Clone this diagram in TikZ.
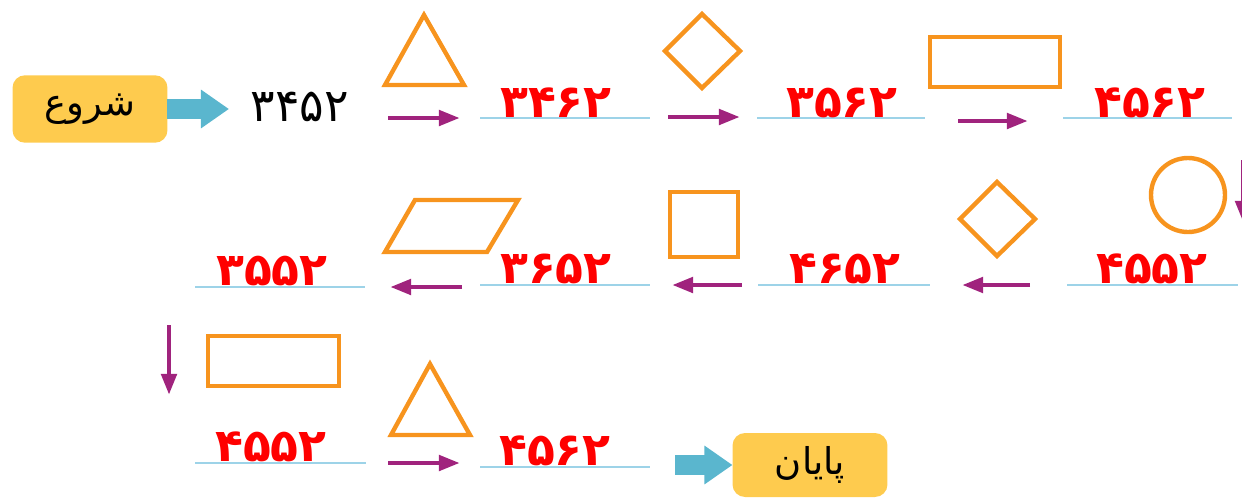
\documentclass[tikz,border=0pt]{standalone}
\usepackage{fontspec}
\usepackage{tikz}
\usetikzlibrary{arrows.meta}
\TeXXeTstate=1
\newfontfamily\arabicfont[Script=Arabic]{DejaVu Sans}
\newfontfamily\digitfont{DejaVu Sans}
\definecolor{boxyellow}{RGB}{254,203,78}
\definecolor{arrowcyan}{RGB}{90,182,206}
\definecolor{shapeorange}{RGB}{247,148,30}
\definecolor{stepviolet}{RGB}{160,35,125}
\definecolor{lineblue}{RGB}{157,211,232}

\begin{document}
\begin{tikzpicture}[x=0.02cm, y=-0.02cm,
  every node/.style={inner sep=0pt, outer sep=0pt},
  endbox/.style={fill=boxyellow, rounded corners=0.25cm, minimum width=3.1cm, minimum height=1.35cm, font=\arabicfont\fontsize{21}{25}\selectfont},
  fatarrow/.style={draw=arrowcyan, line width=11.5pt, -{Triangle[length=16pt,width=21pt]}},
  steparrow/.style={draw=stepviolet, line width=2.8pt, -{Triangle[length=12pt,width=8.5pt]}},
  outline/.style={draw=shapeorange, line width=2.5pt},
  answerline/.style={draw=lineblue, line width=1.1pt},
  given/.style={anchor=base, font=\digitfont\fontsize{26}{30}\selectfont},
  answer/.style={anchor=base, text=red, font=\digitfont\bfseries\fontsize{26}{30}\selectfont}]
\useasboundingbox (0,0) rectangle (1242,501);

\node[endbox] (start) at (90,109) {\beginR شروع\endR};
\coordinate (s1) at (229,109);
\draw[fatarrow] (start.east) -- (s1);
\node[given] (q0) at (300,121) {۳۴۵۲};

\draw[outline] (424,15) -- (464,85) -- (385,85) -- cycle;
\coordinate (a1) at (388,118);
\coordinate (b1) at (460,118);
\draw[steparrow] (a1) -- (b1);
\draw[answerline] (480,118) -- (650,118);
\node[answer] (q1) at (556,117) {۳۴۶۲};

\draw[outline] (702,14) -- (740,51) -- (702,88) -- (665,51) -- cycle;
\coordinate (a2) at (668,117);
\coordinate (b2) at (740,117);
\draw[steparrow] (a2) -- (b2);
\draw[answerline] (757,118) -- (925,118);
\node[answer] (q2) at (842,117) {۳۵۶۲};

\draw[outline] (930,37) rectangle (1060,87);
\coordinate (a3) at (958,121);
\coordinate (b3) at (1028,121);
\draw[steparrow] (a3) -- (b3);
\draw[answerline] (1063,118) -- (1232,118);
\node[answer] (q3) at (1150,117) {۴۵۶۲};

\coordinate (a4) at (1243,160);
\coordinate (b4) at (1243,222);
\draw[steparrow] (a4) -- (b4);

\draw[outline] (1188,195) circle (37);
\draw[answerline] (1067,285) -- (1238,285);
\node[answer] (q4) at (1152,283) {۴۵۵۲};

\draw[outline] (997,182) -- (1035,219) -- (997,256) -- (960,219) -- cycle;
\coordinate (a5) at (1030,285);
\coordinate (b5) at (962,285);
\draw[steparrow] (a5) -- (b5);
\draw[answerline] (758,285) -- (930,285);
\node[answer] (q5) at (845,283) {۴۶۵۲};

\draw[outline] (670,192) rectangle (738,257);
\coordinate (a6) at (742,285);
\coordinate (b6) at (672,285);
\draw[steparrow] (a6) -- (b6);
\draw[answerline] (480,285) -- (650,285);
\node[answer] (q6) at (556,283) {۳۶۵۲};

\draw[outline] (415,200) -- (518,200) -- (487,252) -- (385,252) -- cycle;
\coordinate (a7) at (462,287);
\coordinate (b7) at (390,287);
\draw[steparrow] (a7) -- (b7);
\draw[answerline] (195,287) -- (365,287);
\node[answer] (q7) at (272,285) {۳۵۵۲};

\coordinate (a8) at (169,325);
\coordinate (b8) at (169,395);
\draw[steparrow] (a8) -- (b8);
\draw[outline] (208,336) rectangle (339,386);
\draw[answerline] (195,463) -- (366,463);
\node[answer] (q8) at (271,461) {۴۵۵۲};

\draw[outline] (430,364) -- (470,435) -- (391,435) -- cycle;
\coordinate (a9) at (388,463);
\coordinate (b9) at (460,463);
\draw[steparrow] (a9) -- (b9);
\draw[answerline] (480,467) -- (650,467);
\node[answer] (q9) at (555,465) {۴۵۶۲};

\node[endbox, minimum height=1.28cm] (finish) at (810,465) {\beginR پایان\endR};
\coordinate (s2) at (675,465);
\draw[fatarrow] (s2) -- (finish.west);
\end{tikzpicture}
\end{document}
